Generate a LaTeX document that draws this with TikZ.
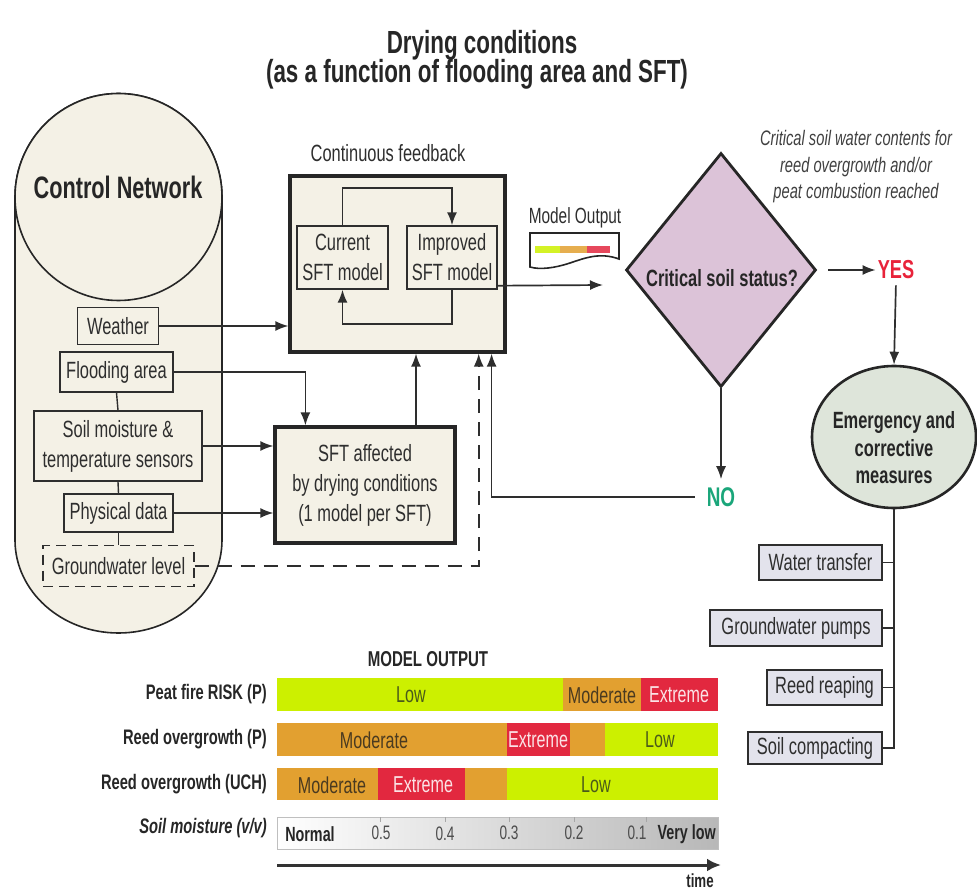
\documentclass[tikz,border=0pt]{standalone}
\usepackage{fontspec}
\setmainfont{Liberation Sans}[FakeStretch=0.7]
\usetikzlibrary{arrows.meta,shapes.geometric,calc}
\definecolor{beige}{HTML}{F4F1E6}
\definecolor{lav}{HTML}{DCC3D8}
\definecolor{emg}{HTML}{DEE5DA}
\definecolor{mbox}{HTML}{E3E3EC}
\definecolor{lime}{HTML}{CCF000}
\definecolor{ora}{HTML}{E2A030}
\definecolor{redx}{HTML}{E2283F}
\definecolor{yesc}{HTML}{E8233A}
\definecolor{noc}{HTML}{1AA67A}
\definecolor{txt}{HTML}{2E2E2E}
\definecolor{lowt}{HTML}{4A5A1A}
\definecolor{modt}{HTML}{4A3A20}
\definecolor{extt}{HTML}{FBE3E6}
\newcommand\fsz[2]{\fontsize{#1}{#2}\selectfont}
\begin{document}
\begin{tikzpicture}[x=1pt,y=-1pt,
  every node/.style={text=txt},
  arr/.style={line width=1.7pt, draw=txt, -{Latex[length=13pt,width=10pt]}},
  ln/.style={line width=1.4pt, draw=txt},
  cbox/.style={draw=txt, line width=1.4pt, fill=beige, inner sep=0pt, font=\fsz{23.5}{30}, align=center},
  tbox/.style={draw=black!85, line width=3.2pt, fill=beige, inner sep=0pt, font=\fsz{23.5}{30}, align=center},
  mbx/.style={draw=txt, line width=1.4pt, fill=mbox, inner sep=0pt, font=\fsz{23.5}{26}},
  bartxt/.style={font=\fsz{23}{24}, inner sep=0pt},
  rowlab/.style={anchor=east, font=\bfseries\fsz{21}{24}, inner sep=0pt, text=black!85},
  numtxt/.style={font=\fsz{19.5}{20}, inner sep=0pt, text=black!70},
]
\useasboundingbox (0,0) rectangle (977,893);

% Title
\node[font=\bfseries\fsz{32}{34}, text=black!85] (t1) at (482,45) {Drying conditions};
\node[font=\bfseries\fsz{32}{34}, text=black!85] (t2) at (477,74) {(as a function of flooding area and SFT)};

% Control network capsule
\filldraw[fill=beige, draw=black!85, line width=1.6pt] (15,197) -- (15,540)
  arc[start angle=180, end angle=0, x radius=103.5, y radius=93] -- (222,197)
  arc[start angle=0, end angle=-180, radius=103.5] -- cycle;
\node[circle, draw=black!85, line width=1.6pt, fill=beige, minimum size=207, inner sep=0pt] (cn) at (118.5,197) {};
\node[font=\bfseries\fsz{31}{32}, text=black!85] (cnt) at (118,187) {Control Network};

\node[cbox, minimum width=81, minimum height=37] (weather) at (118,326) {Weather};
\node[cbox, minimum width=113, minimum height=40] (flood) at (116.5,372) {Flooding area};
\node[cbox, minimum width=168, minimum height=70] (soil) at (118,446) {Soil moisture \&\\temperature sensors};
\node[cbox, minimum width=109, minimum height=38] (phys) at (118.5,513) {Physical data};
\node[cbox, dashed, dash pattern=on 10pt off 6pt, minimum width=151, minimum height=41] (gw) at (118.5,566) {Groundwater level};
\draw[ln] (flood.south) -- (soil.north);
\draw[ln] (soil.south) -- (phys.north);
\draw[ln] (phys.south) -- (gw.north);

% Continuous feedback
\node[font=\fsz{23.5}{26}] (cft) at (388,153) {Continuous feedback};
\node[tbox, minimum width=215, minimum height=176] (fb) at (397.5,264) {};
\node[cbox, minimum width=91, minimum height=63] (cur) at (342.5,257.5) {Current\\SFT model};
\node[cbox, minimum width=90, minimum height=63] (imp) at (452,257.5) {Improved\\SFT model};
\draw[arr] (cur.north) -- ++(0,-37) -| (imp.north);
\draw[arr] (imp.south) -- ++(0,34) -| (cur.south);

% SFT affected
\node[tbox, minimum width=180, minimum height=116] (sft) at (365,485) {SFT affected\\by drying conditions\\(1 model per SFT)};

% inputs
\draw[arr] (weather.east) -- (weather.east -| fb.west);
\draw[arr] (soil.east) -- (soil.east -| sft.west);
\draw[arr] (phys.east) -- (phys.east -| sft.west);
\draw[arr] (flood.east) -| ($(sft.north west)+(32,0)$);
\draw[arr] ($(sft.north)+(51,0)$) coordinate (s1) -- (s1 |- fb.south);
\draw[arr, dashed, dash pattern=on 14pt off 9pt] (gw.east) -- ++(284,0) coordinate (g1) -- (g1 |- fb.south);

% Model output doc
\node[font=\fsz{22}{24}] (mot) at (575,218) {Model Output};
\draw[line width=1.6pt, draw=black!85, fill=white] (530,233) -- (619,233) -- (619,259)
  .. controls (600,252) and (585,258) .. (570,263) .. controls (555,268) and (540,270) .. (530,267) -- cycle;
\fill[lime!85!white] (535,246) rectangle (560,253);
\fill[ora!85!white] (560,246) rectangle (587,253);
\fill[redx!85!white] (587,246) rectangle (610,253);

\coordinate (outend) at (603,285);
\draw[arr] ($(imp.south east)+(0,-4)$) -- (outend);

% Diamond
\node[diamond, draw=black!85, line width=2.8pt, fill=lav, minimum width=190, minimum height=234, inner sep=0pt] (dia) at (721,270) {};
\node[font=\bfseries\fsz{23.5}{26}, text=black!85] (diat) at (722,278) {Critical soil status?};

\node[font=\itshape\fsz{21}{26.5}, align=center, text=black!75] (note) at (856,167) {Critical soil water contents for\\reed overgrowth and/or\\peat combustion reached};

\node[font=\bfseries\fsz{26}{26}, text=yesc, inner sep=2pt] (yes) at (896,270) {YES};
\draw[arr, shorten <=11pt] (dia.east) -- (yes.west);

\node[ellipse, draw=black!85, line width=2.6pt, fill=emg, minimum width=164, minimum height=142, inner sep=0pt] (emer) at (894,437) {};
\node[font=\bfseries\fsz{23.5}{27.5}, align=center, text=black!85] (emt) at (894,448) {Emergency and\\corrective\\measures};
\draw[arr, shorten <=4pt] (yes.south) -- (emer.north);

\node[font=\bfseries\fsz{27}{28}, text=noc, inner sep=2pt] (no) at (721,497) {NO};
\draw[arr, shorten >=6pt] (dia.south) -- (no.north);
\draw[arr, shorten <=10pt] (no.west) -| ($(fb.south east)+(-15,0)$);

% Measures
\node[mbx, minimum width=123, minimum height=35] (wt) at (820.5,562.5) {Water transfer};
\node[mbx, minimum width=172, minimum height=36] (gp) at (796,628) {Groundwater pumps};
\node[mbx, minimum width=115, minimum height=35] (rr) at (824.5,687.5) {Reed reaping};
\node[mbx, minimum width=134, minimum height=32] (sc) at (815,748) {Soil compacting};
\draw[ln] (emer.south) |- (sc.east);
\draw[ln] (wt.east) -- (wt.east -| emer.south);
\draw[ln] (gp.east) -- (gp.east -| emer.south);
\draw[ln] (rr.east) -- (rr.east -| emer.south);

% Chart
\node[font=\bfseries\fsz{21.5}{24}, text=black!85] (mo) at (428,659) {MODEL OUTPUT};
\node[rowlab] (l1) at (267,694) {Peat fire RISK (P)};
\node[rowlab] (l2) at (267,739) {Reed overgrowth (P)};
\node[rowlab] (l3) at (267,784) {Reed overgrowth (UCH)};
\node[rowlab, font=\bfseries\itshape\fsz{21}{24}] (l4) at (267,828) {Soil moisture (v/v)};

% row 1
\fill[lime] (277,678) rectangle (563,711);
\fill[ora] (563,678) rectangle (641,711);
\fill[redx] (641,678) rectangle (718,711);
\node[bartxt, text=lowt] (r1a) at (411,695) {Low};
\node[bartxt, text=modt] (r1b) at (602,695) {Moderate};
\node[bartxt, text=extt] (r1c) at (679,695) {Extreme};
% row 2
\fill[ora] (277,723) rectangle (507,756);
\fill[redx] (507,723) rectangle (570,756);
\fill[ora] (570,723) rectangle (605,756);
\fill[lime] (605,723) rectangle (718,756);
\node[bartxt, text=modt] (r2a) at (374,740) {Moderate};
\node[bartxt, text=extt] (r2b) at (538,740) {Extreme};
\node[bartxt, text=lowt] (r2c) at (660,740) {Low};
% row 3
\fill[ora] (277,768) rectangle (378,800);
\fill[redx] (378,768) rectangle (465,800);
\fill[ora] (465,768) rectangle (507,800);
\fill[lime] (507,768) rectangle (718,800);
\node[bartxt, text=modt] (r3a) at (332,785) {Moderate};
\node[bartxt, text=extt] (r3b) at (423,785) {Extreme};
\node[bartxt, text=lowt] (r3c) at (596,785) {Low};
% soil moisture
\shade[left color=white, right color=black!28] (277,817) rectangle (718,849);
\draw[black!25, line width=0.8pt] (277,817) rectangle (718,849);
\foreach \xx in {380,445,509,574,646} \draw[black!35, line width=0.8pt] (\xx,817) -- (\xx,822);
\node[font=\bfseries\fsz{20.5}{22}, inner sep=0pt, text=black!85] (nrm) at (310,834) {Normal};
\node[numtxt] (n5) at (381,833) {0.5};
\node[numtxt] (n4) at (445,834) {0.4};
\node[numtxt] (n3) at (509,833) {0.3};
\node[numtxt] (n2) at (574,833) {0.2};
\node[numtxt] (n1) at (637,833) {0.1};
\node[font=\bfseries\fsz{20.5}{22}, inner sep=0pt, text=black!85, anchor=east] (vl) at (716,834) {Very low};

\coordinate (ta) at (277,865);
\coordinate (tb) at (721,865);
\draw[line width=3pt, draw=black!80, -{Latex[length=14pt,width=13pt]}] (ta) -- (tb);
\node[font=\bfseries\fsz{19}{20}, inner sep=0pt, text=black!85] (tm) at (700,881) {time};
\end{tikzpicture}
\end{document}
